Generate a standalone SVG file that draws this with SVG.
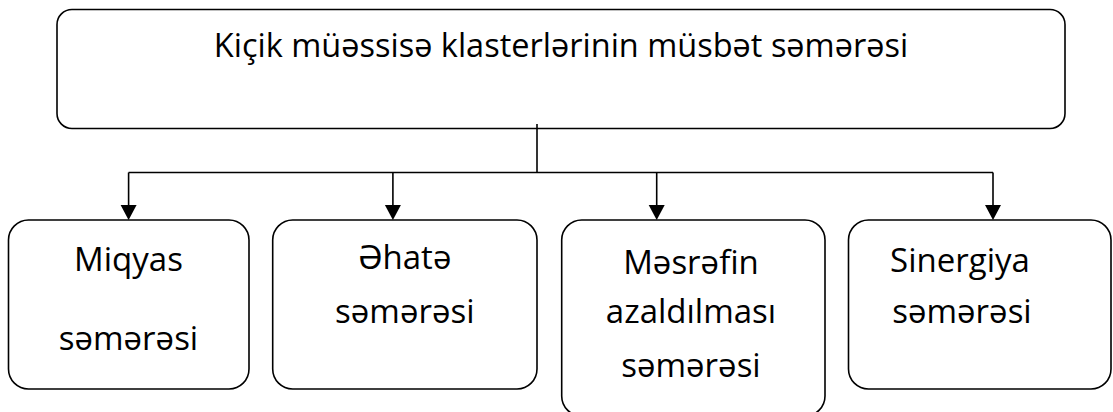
<svg xmlns="http://www.w3.org/2000/svg" width="1113" height="412" viewBox="0 0 1113 412">
  <style>
    .box { fill: #ffffff; stroke: #000000; stroke-width: 1.6; }
    .conn { fill: none; stroke: #000000; stroke-width: 1.6; }
    .head { fill: #000000; }
    .lbl { font-family: "Open Sans", "Noto Sans", "DejaVu Sans", sans-serif; fill: #000000; text-anchor: middle; }
    .title { font-size: 32.5px; }
    .node { font-size: 33px; }
  </style>
  <rect width="1113" height="412" fill="#ffffff"/>

  <g id="node-top">
    <rect class="box" x="57" y="9.5" width="1008" height="119" rx="15" ry="15"/>
    <text class="lbl title" x="561" y="57">Kiçik müəssisə klasterlərinin müsbət səmərəsi</text>
  </g>

  <g id="connectors">
    <path class="conn" d="M537,124 L537,172.5"/>
    <path class="conn" d="M128.6,172.5 L993,172.5"/>
    <path class="conn" d="M128.6,172.5 L128.6,206"/>
    <path class="conn" d="M392.9,172.5 L392.9,206"/>
    <path class="conn" d="M656.7,172.5 L656.7,206"/>
    <path class="conn" d="M993,172.5 L993,206"/>
    <polygon class="head" points="120.6,205 136.6,205 128.6,220"/>
    <polygon class="head" points="384.9,205 400.9,205 392.9,220"/>
    <polygon class="head" points="648.7,205 664.7,205 656.7,220"/>
    <polygon class="head" points="985,205 1001,205 993,220"/>
  </g>

  <g id="node-miqyas">
    <rect class="box" x="8.5" y="220" width="240.5" height="169" rx="20" ry="20"/>
    <text class="lbl node" x="128.5" y="271">Miqyas</text>
    <text class="lbl node" x="128.5" y="350">səmərəsi</text>
  </g>

  <g id="node-ehate">
    <rect class="box" x="272.7" y="220" width="264.3" height="169" rx="20" ry="20"/>
    <text class="lbl node" x="404.8" y="269">Əhatə</text>
    <text class="lbl node" x="404.8" y="323">səmərəsi</text>
  </g>

  <g id="node-mesref">
    <rect class="box" x="561.7" y="220" width="263.3" height="196" rx="20" ry="20"/>
    <text class="lbl node" x="691" y="274">Məsrəfin</text>
    <text class="lbl node" x="691" y="323">azaldılması</text>
    <text class="lbl node" x="691" y="377">səmərəsi</text>
  </g>

  <g id="node-sinergiya">
    <rect class="box" x="848.5" y="220" width="262.5" height="169" rx="20" ry="20"/>
    <text class="lbl node" x="960" y="272">Sinergiya</text>
    <text class="lbl node" x="962" y="323">səmərəsi</text>
  </g>
</svg>
